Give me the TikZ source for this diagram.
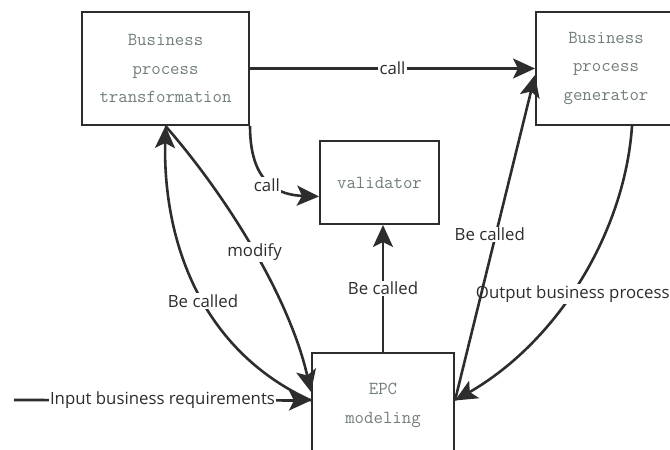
\documentclass[tikz,border=0pt]{standalone}
\usepackage{fontspec}
\newfontfamily\lblfont{Open Sans}
\usetikzlibrary{arrows.meta,calc}
\definecolor{ink}{RGB}{45,45,45}
\definecolor{boxtext}{RGB}{112,126,118}
\begin{document}
\begin{tikzpicture}[x=1pt,y=1pt,
  box/.style={draw=ink, line width=2pt, inner sep=0pt, align=center, text=boxtext,
    font=\fontsize{18.3}{28.5}\selectfont\ttfamily},
  conn/.style={draw=ink, line width=2.6pt, -{Stealth[length=22pt,width=20pt,inset=5pt]}},
  lbl/.style={fill=white, inner sep=1.5pt, text=ink, font=\fontsize{16.8}{18}\selectfont\lblfont}
]
\useasboundingbox (0,0) rectangle (670,450);
\clip (0,0) rectangle (670,450);

% components
\node[box, minimum width=167pt, minimum height=113pt] (bpt) at (165.5,381.5) {Business\\process\\transformation};
\node[box, minimum width=140pt, minimum height=113pt] (bpg) at (606,381.5) {Business\\process\\generator};
\node[box, minimum width=119pt, minimum height=83pt] (val) at (379.5,267.5) {validator};
\node[box, minimum width=142pt, minimum height=105pt] (epc) at (383,44.5) {EPC\\modeling};

% attachment points on the EPC box
\coordinate (epcL) at ($(epc.west)+(0,5)$);
\coordinate (epcR) at ($(epc.east)+(0,5)$);
\coordinate (src) at (14,50);

% calls
\draw[conn] (bpt.east) -- node[lbl]{call} (bpg.west);
\draw[conn] (bpt.south east) .. controls (250,265) and (280,255) .. node[lbl,pos=0.5,xshift=-3pt,yshift=-2pt]{call} ($(val.west)+(0,-14)$);

% transformation <-> EPC modeling
\draw[conn] (bpt.south) .. controls (230,250) and (290,150) .. node[lbl]{modify} ($(epc.west)+(0,13.5)$);
\draw[conn] (epcL) .. controls (200,100) and (163,210) .. node[lbl,pos=0.45]{Be called} (bpt.south);

% input
\draw[conn] (src) -- node[lbl]{Input business requirements} (epcL);

% EPC modeling -> validator
\draw[conn] (epc.north) -- node[lbl]{Be called} (epc.north |- val.south);

% generator <-> EPC modeling
\draw[conn] ($(bpg.south)+(26,0)$) .. controls (625,220) and (560,110) .. node[lbl,pos=0.55,xshift=2pt]{Output business process} (epcR);
\draw[conn] (epcR) -- node[lbl,pos=0.51,xshift=-6pt]{Be called} ($(bpg.west)+(0,-6.5)$);
\end{tikzpicture}
\end{document}
